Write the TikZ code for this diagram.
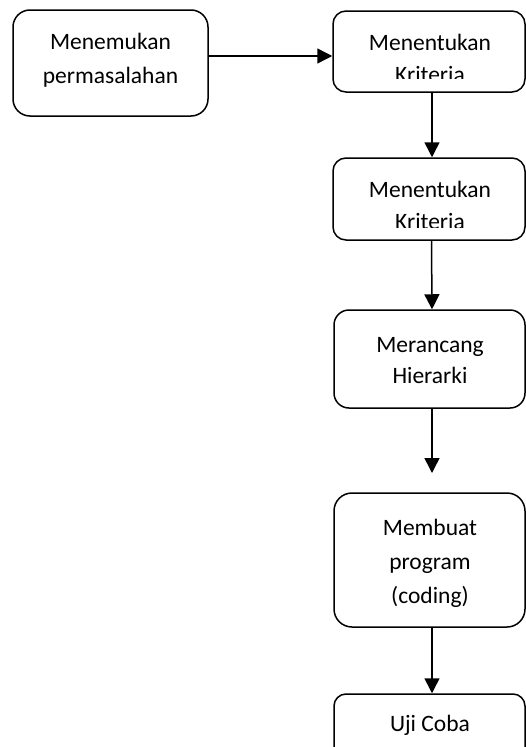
\documentclass[tikz,border=0pt]{standalone}
\usepackage{fontspec}
\setmainfont{Carlito}
\usetikzlibrary{arrows.meta}
\begin{document}
\begin{tikzpicture}[x=1pt,y=-1pt,
  box/.style={draw, line width=1.5pt, rounded corners=#1, inner sep=0pt},
  box/.default=14pt,
  lbl/.style={font=\fontsize{23.5}{#1}\selectfont, align=center, inner sep=0pt},
  lbl/.default=34,
  arr/.style={-{Triangle[length=15pt,width=15pt]}, line width=1.5pt}]
\useasboundingbox (0,0) rectangle (526,747);
\clip (0,0) rectangle (526,747);
% boxes
\node[box=17pt, minimum width=195pt, minimum height=106pt] (b1) at (110.5,63) {};
\node[box=13pt, minimum width=192pt, minimum height=81pt] (b2) at (429,51.5) {};
\node[box=13pt, minimum width=192pt, minimum height=82pt] (b3) at (429,199) {};
\node[box=15pt, minimum width=191pt, minimum height=98pt] (b4) at (429.5,359) {};
\node[box=18pt, minimum width=191pt, minimum height=134pt] (b5) at (429.5,560) {};
\node[box=12pt, minimum width=191pt, minimum height=81pt] (b6) at (429.5,734.5) {};
% texts
\node[lbl] (t1) at (110.5,60) {Menemukan\\permasalahan};
\begin{scope}
  \clip (333,11) rectangle (525,78);
  \node[lbl=32] (t2) at (430,58) {Menentukan\\Kriteria};
\end{scope}
\begin{scope}
  \clip (333,158) rectangle (525,227);
  \node[lbl=32] (t3) at (430,205.5) {Menentukan\\Kriteria};
\end{scope}
\node[lbl=31] (t4) at (430,360.5) {Merancang\\Hierarki};
\node[lbl] (t5) at (430,563) {Membuat\\program\\(coding)};
\node[lbl] (t6) at (430,725) {Uji Coba};
% connectors
\coordinate (c3) at (432,473);
\draw[arr] ([yshift=7pt]b1.east) -- ([yshift=-4.5pt]b2.west);
\draw[arr] ([xshift=3pt]b2.south) -- ([xshift=3pt]b3.north);
\draw[arr] ([xshift=2.5pt]b3.south) -- ([xshift=2.5pt]b4.north);
\draw[arr] ([xshift=2.5pt]b4.south) -- (c3);
\draw[arr] ([xshift=2.5pt]b5.south) -- ([xshift=2.5pt]b6.north);
\end{tikzpicture}
\end{document}
